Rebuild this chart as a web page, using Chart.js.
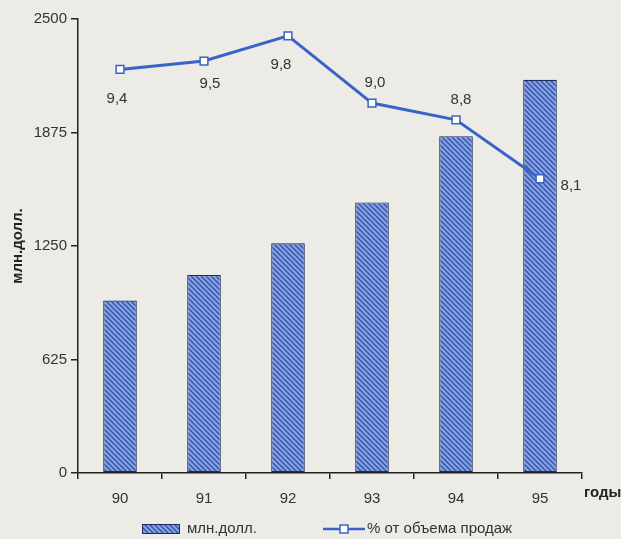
<!DOCTYPE html>
<html>
<head>
<meta charset="utf-8">
<script src="https://cdn.jsdelivr.net/npm/chart.js@4.4.0/dist/chart.umd.min.js"></script>
<style>
    html, body { margin: 0; padding: 0; background: #ecebe6; }
    #wrap { width: 621px; height: 539px; }
</style>
</head>
<body>
<div id="wrap"><canvas id="chart"></canvas></div>
<script>
// ===== ДАННЫЕ =====
const years = ['90', '91', '92', '93', '94', '95'];
const salesMln = [950, 1090, 1265, 1490, 1855, 2165];
const salesPct = [9.4, 9.5, 9.8, 9.0, 8.8, 8.1];
const pctLabels = ['9,4', '9,5', '9,8', '9,0', '8,8', '8,1'];
const yTicks = [0, 625, 1250, 1875, 2500];

// смещения подписей процентов относительно точки
const labelOffsets = [[-3, 29], [6, 23], [-7, 29], [3, -20], [5, -20], [31, 7]];

const FONT = "'Liberation Sans', Arial, sans-serif";
const TEXT = '#333333';
const LINE_BLUE = '#3a62c9';

const canvas = document.getElementById('chart');
const mainCtx = canvas.getContext('2d');

// ===== ШТРИХОВКА СТОЛБЦОВ =====
function makeHatchTile() {
    const c = document.createElement('canvas');
    c.width = 5;
    c.height = 5;
    const g = c.getContext('2d');
    g.fillStyle = '#86a5e4';
    g.fillRect(0, 0, 5, 5);
    g.strokeStyle = '#3853aa';
    g.lineWidth = 1.5;
    g.beginPath();
    g.moveTo(-1, -1); g.lineTo(6, 6);
    g.moveTo(-1, 4); g.lineTo(1, 6);
    g.moveTo(4, -1); g.lineTo(6, 1);
    g.stroke();
    return c;
}
const hatch = mainCtx.createPattern(makeHatchTile(), 'repeat');

// ===== ПОДПИСИ, ЛЕГЕНДА, "годы" =====
const extrasPlugin = {
    id: 'extras',
    afterDatasetsDraw(chart) {
        const ctx = chart.ctx;
        const meta = chart.getDatasetMeta(1);
        ctx.save();
        ctx.font = '15px ' + FONT;
        ctx.fillStyle = TEXT;
        ctx.textAlign = 'center';
        ctx.textBaseline = 'middle';
        meta.data.forEach((pt, i) => {
            const off = labelOffsets[i];
            ctx.fillText(pctLabels[i], pt.x + off[0], pt.y + off[1]);
        });

        // подпись оси X справа
        const area = chart.chartArea;
        ctx.font = 'bold 15px ' + FONT;
        ctx.textAlign = 'left';
        ctx.fillStyle = '#222';
        ctx.fillText('годы', area.right + 2, area.bottom + 20);

        // легенда
        const ly = 529;
        ctx.fillStyle = hatch;
        ctx.fillRect(142, ly - 5, 38, 10);
        ctx.strokeStyle = '#1c2a5c';
        ctx.lineWidth = 1;
        ctx.strokeRect(142.5, ly - 4.5, 37, 9);

        ctx.font = '15px ' + FONT;
        ctx.fillStyle = TEXT;
        ctx.fillText('млн.долл.', 187, ly);

        ctx.strokeStyle = LINE_BLUE;
        ctx.lineWidth = 2.5;
        ctx.beginPath();
        ctx.moveTo(323, ly);
        ctx.lineTo(365, ly);
        ctx.stroke();
        ctx.fillStyle = '#ffffff';
        ctx.lineWidth = 1.5;
        ctx.fillRect(340, ly - 4, 8, 8);
        ctx.strokeRect(340, ly - 4, 8, 8);

        ctx.fillStyle = TEXT;
        ctx.fillText('% от объема продаж', 367, ly);
        ctx.restore();
    }
};

// ===== ГРАФИК =====
new Chart(canvas, {
    data: {
        labels: years,
        datasets: [
            {
                type: 'bar',
                label: 'млн.долл.',
                data: salesMln,
                backgroundColor: hatch,
                borderColor: '#1c2a5c',
                borderWidth: 1.2,
                borderSkipped: false,
                categoryPercentage: 1,
                barPercentage: 0.4,
                yAxisID: 'y',
                order: 2
            },
            {
                type: 'line',
                label: '% от объема продаж',
                data: salesPct,
                borderColor: LINE_BLUE,
                borderWidth: 3,
                tension: 0,
                pointStyle: 'rect',
                pointRadius: 5.5,
                pointBackgroundColor: '#ffffff',
                pointBorderColor: LINE_BLUE,
                pointBorderWidth: 1.5,
                yAxisID: 'y2',
                order: 1
            }
        ]
    },
    options: {
        responsive: true,
        maintainAspectRatio: false,
        animation: false,
        layout: {
            padding: { top: 19, right: 39, bottom: 36, left: 9 }
        },
        plugins: {
            legend: { display: false },
            tooltip: { enabled: false }
        },
        scales: {
            x: {
                offset: true,
                border: { display: true, color: '#222', width: 1.5 },
                grid: {
                    offset: true,
                    drawOnChartArea: false,
                    drawTicks: true,
                    tickLength: 6,
                    color: '#222',
                    lineWidth: 1.5
                },
                ticks: {
                    color: TEXT,
                    font: { family: FONT, size: 15 },
                    padding: 11
                },
                afterFit: function (scale) { scale.height = 30; }
            },
            y: {
                min: 0,
                max: 2500,
                afterBuildTicks: function (scale) {
                    scale.ticks = yTicks.map(v => ({ value: v }));
                },
                border: { display: true, color: '#222', width: 1.5 },
                grid: {
                    drawOnChartArea: false,
                    tickLength: 7,
                    color: '#222',
                    lineWidth: 1.5
                },
                ticks: {
                    color: TEXT,
                    font: { family: FONT, size: 15 },
                    padding: 4,
                    callback: function (value) { return String(value); }
                },
                title: {
                    display: true,
                    text: 'млн.долл.',
                    color: '#222',
                    font: { family: FONT, size: 15, weight: 'bold' },
                    padding: { top: 0, bottom: 6 }
                },
                afterFit: function (scale) { scale.width = 69; }
            },
            y2: {
                display: false,
                min: 4.6,
                max: 10.0
            }
        }
    },
    plugins: [extrasPlugin]
});
</script>
</body>
</html>
